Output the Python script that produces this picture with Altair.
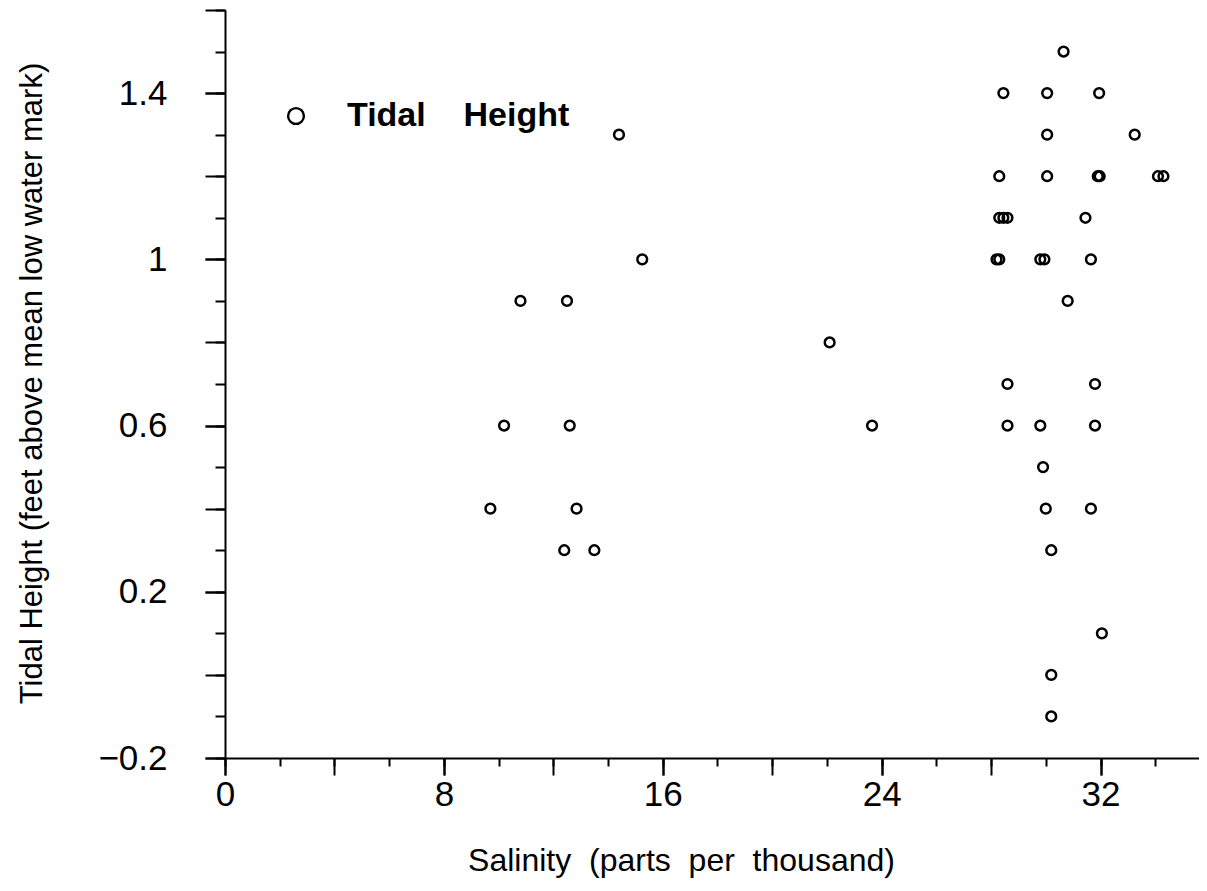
import altair as alt
import pandas as pd

# Data
salinity = [9.7, 10.2, 10.8, 12.5, 12.6, 12.85, 12.4, 13.5, 14.4, 15.25, 22.1, 23.65,
            30.65, 28.45, 30.05, 31.95, 30.05, 33.25, 28.3, 30.05, 31.9, 31.97, 34.1, 34.3,
            28.3, 28.45, 28.6, 31.45, 28.2, 28.3, 29.8, 29.95, 31.65, 30.8,
            28.6, 31.8, 28.6, 29.8, 31.8, 29.9, 30.0, 31.65, 30.2, 32.05, 30.2, 30.2]
tidal_height = [0.4, 0.6, 0.9, 0.9, 0.6, 0.4, 0.3, 0.3, 1.3, 1.0, 0.8, 0.6,
                1.5, 1.4, 1.4, 1.4, 1.3, 1.3, 1.2, 1.2, 1.2, 1.2, 1.2, 1.2,
                1.1, 1.1, 1.1, 1.1, 1.0, 1.0, 1.0, 1.0, 1.0, 0.9,
                0.7, 0.7, 0.6, 0.6, 0.6, 0.5, 0.4, 0.4, 0.3, 0.1, 0.0, -0.1]
series_name = "Tidal\u00a0\u00a0\u00a0\u00a0Height"

# Axis ticks / labels
x_minor_ticks = [0, 2, 4, 6, 8, 10, 12, 14, 16, 18, 20, 22, 24, 26, 28, 30, 32, 34]
x_major_ticks = [0, 4, 8, 12, 16, 20, 24, 28, 32]
x_labels = [0, 8, 16, 24, 32]
y_minor_ticks = [-0.2, -0.1, 0.0, 0.1, 0.2, 0.3, 0.4, 0.5, 0.6, 0.7, 0.8, 0.9,
                 1.0, 1.1, 1.2, 1.3, 1.4, 1.5, 1.6]
y_major_ticks = [-0.2, 0.0, 0.2, 0.4, 0.6, 0.8, 1.0, 1.2, 1.4, 1.6]
y_labels = [-0.2, 0.2, 0.6, 1.0, 1.4]

df = pd.DataFrame({"salinity": salinity, "height": tidal_height,
                   "series": [series_name] * len(salinity)})

FONT = "Liberation Sans"
xscale = alt.Scale(domain=[0, 35.6], nice=False, zero=False)
yscale = alt.Scale(domain=[-0.2, 1.6], nice=False, zero=False)

common_axis = dict(domainColor="black", domainWidth=2, tickColor="black",
                   tickWidth=2, grid=False, labelFont=FONT, titleFont=FONT,
                   labelColor="black", titleColor="black")
no_domain = dict(common_axis, domain=False)

# Layer 1: minor ticks + the points + legend
points = alt.Chart(df).mark_point(shape="circle", filled=False, size=95,
                                  strokeWidth=2.5, opacity=1).encode(
    x=alt.X("salinity:Q", scale=xscale,
            axis=alt.Axis(orient="bottom", values=x_minor_ticks, tickSize=8,
                          labels=False, title=None, **common_axis)),
    y=alt.Y("height:Q", scale=yscale,
            axis=alt.Axis(orient="left", values=y_minor_ticks, tickSize=10,
                          labels=False, title=None, **common_axis)),
    color=alt.Color("series:N", scale=alt.Scale(range=["black"]),
                    legend=alt.Legend(title=None, orient="none", legendX=54,
                                      legendY=89, symbolType="circle",
                                      symbolSize=250, symbolStrokeWidth=2.4,
                                      symbolFillColor="white",
                                      labelFont=FONT, labelFontSize=34,
                                      labelFontWeight="bold", labelColor="black",
                                      labelOffset=34, padding=0, labelLimit=600)),
)

# Layer 2: major ticks (no labels)
major = alt.Chart(df).mark_point(opacity=0).encode(
    x=alt.X("salinity:Q", scale=xscale,
            axis=alt.Axis(orient="bottom", values=x_major_ticks, tickSize=17,
                          labels=False, title=None, **no_domain)),
    y=alt.Y("height:Q", scale=yscale,
            axis=alt.Axis(orient="left", values=y_major_ticks, tickSize=20,
                          labels=False, title=None, **no_domain)),
)

# Layer 3: labelled ticks + titles
labelled = alt.Chart(df).mark_point(opacity=0).encode(
    x=alt.X("salinity:Q", scale=xscale,
            axis=alt.Axis(orient="bottom", values=x_labels, tickSize=17,
                          labelFontSize=35, labelPadding=2, format="d",
                          labelFlush=False,
                          title="Salinity\u00a0\u00a0(parts\u00a0\u00a0per\u00a0\u00a0thousand)",
                          titleFontSize=32, titleFontWeight="normal",
                          titleX=456, titleY=102, titleBaseline="middle",
                          titleAlign="center", **no_domain)),
    y=alt.Y("height:Q", scale=yscale,
            axis=alt.Axis(orient="left", values=y_labels, tickSize=20,
                          labelFontSize=35, labelPadding=38, labelFlush=False,
                          labelExpr="format(datum.value, '.1~f')",
                          title="Tidal Height (feet above mean low water mark)",
                          titleFontSize=31, titleFontWeight="normal",
                          titleX=-193, titleY=373, titleAngle=270,
                          titleBaseline="middle", titleAlign="center",
                          **no_domain)),
)

chart = alt.layer(points, major, labelled).resolve_axis(
    x="independent", y="independent"
).properties(
    width=974, height=748,
    background="white",
    autosize=alt.AutoSizeParams(type="none"),
    padding={"left": 217, "top": 2, "right": 0, "bottom": 122},
).configure_view(strokeWidth=0, stroke=None).configure_axis(grid=False)

chart.save("out.html", embed_options={"renderer": "svg", "actions": False})
